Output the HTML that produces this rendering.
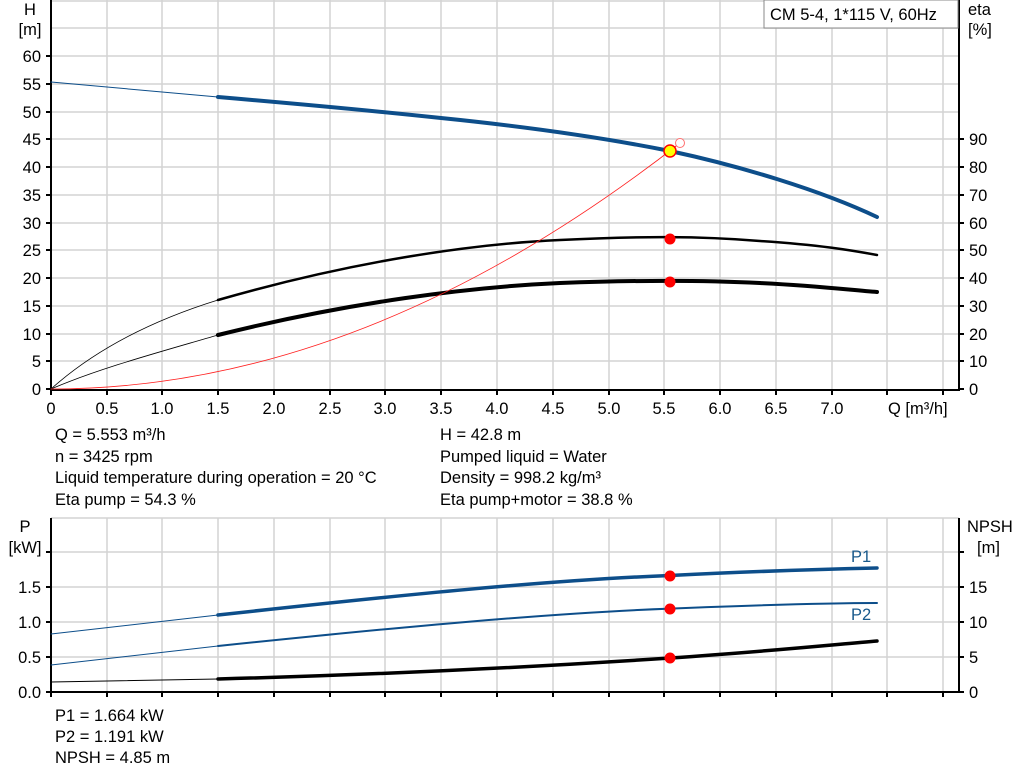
<!DOCTYPE html>
<html><head><meta charset="utf-8"><style>
body{margin:0;background:#fff}
svg{display:block;font-family:"Liberation Sans",Arial,sans-serif}
</style></head><body>
<svg width="1024" height="781" viewBox="0 0 1024 781" xmlns="http://www.w3.org/2000/svg">
<g stroke="#d4d4d4" stroke-width="1.5" fill="none">
<path d="M107,0V389M162,0V389M218,0V389M274,0V389M330,0V389M385,0V389M441,0V389M497,0V389M553,0V389M609,0V389M664,0V389M720,0V389M776,0V389M832,0V389M887,0V389M943,0V389"/>
<path d="M51,28H959M51,56H959M51,84H959M51,112H959M51,139H959M51,167H959M51,195H959M51,223H959M51,250H959M51,278H959M51,306H959M51,334H959M51,361H959"/>
<path d="M51,1H959"/>
<path d="M107,518V692M162,518V692M218,518V692M274,518V692M330,518V692M385,518V692M441,518V692M497,518V692M553,518V692M609,518V692M664,518V692M720,518V692M776,518V692M832,518V692M887,518V692M943,518V692"/>
<path d="M51,518H959M51,552H959M51,587H959M51,622H959M51,657H959"/>
</g>
<g stroke="#000" stroke-width="2" fill="none">
<path d="M51,0V390H959V0"/>
<path d="M51,518V692H959V518"/>
<path d="M51,390v5M107,390v5M162,390v5M218,390v5M274,390v5M330,390v5M385,390v5M441,390v5M497,390v5M553,390v5M609,390v5M664,390v5M720,390v5M776,390v5M832,390v5M887,390v5M943,390v5"/>
<path d="M46,56h5M46,84h5M46,112h5M46,139h5M46,167h5M46,195h5M46,223h5M46,250h5M46,278h5M46,306h5M46,334h5M46,361h5M46,389h5"/>
<path d="M959,139h5M959,167h5M959,195h5M959,223h5M959,250h5M959,278h5M959,306h5M959,334h5M959,361h5M959,389h5"/>
<path d="M46,552h5M46,587h5M46,622h5M46,657h5M46,692h5M959,552h5M959,587h5M959,622h5M959,657h5M959,692h5"/>
<path d="M51,692v5M107,692v5M162,692v5M218,692v5M274,692v5M330,692v5M385,692v5M441,692v5M497,692v5M553,692v5M609,692v5M664,692v5M720,692v5M776,692v5M832,692v5M887,692v5M943,692v5"/>
</g>
<rect x="764" y="0" width="194" height="28" fill="#fff" stroke="#888" stroke-width="1"/>
<text x="770" y="20" font-size="16.5">CM 5-4, 1*115 V, 60Hz</text>
<g font-size="16.5" fill="#000">
<text x="30" y="15" text-anchor="middle">H</text>
<text x="30" y="35" text-anchor="middle">[m]</text>
<g text-anchor="end">
<text x="41" y="62">60</text><text x="41" y="90">55</text><text x="41" y="118">50</text><text x="41" y="145">45</text><text x="41" y="173">40</text><text x="41" y="201">35</text><text x="41" y="229">30</text><text x="41" y="256">25</text><text x="41" y="284">20</text><text x="41" y="312">15</text><text x="41" y="340">10</text><text x="41" y="367">5</text><text x="41" y="395">0</text>
</g>
<text x="968" y="15">eta</text><text x="968" y="35">[%]</text>
<text x="969" y="145">90</text><text x="969" y="173">80</text><text x="969" y="201">70</text><text x="969" y="229">60</text><text x="969" y="256">50</text><text x="969" y="284">40</text><text x="969" y="312">30</text><text x="969" y="340">20</text><text x="969" y="367">10</text><text x="969" y="395">0</text>
<g text-anchor="middle">
<text x="51" y="414">0</text><text x="107" y="414">0.5</text><text x="162" y="414">1.0</text><text x="218" y="414">1.5</text><text x="274" y="414">2.0</text><text x="330" y="414">2.5</text><text x="385" y="414">3.0</text><text x="441" y="414">3.5</text><text x="497" y="414">4.0</text><text x="553" y="414">4.5</text><text x="609" y="414">5.0</text><text x="664" y="414">5.5</text><text x="720" y="414">6.0</text><text x="776" y="414">6.5</text><text x="832" y="414">7.0</text>
</g>
<text x="888" y="414">Q [m³/h]</text>
<text x="55" y="440">Q = 5.553 m³/h</text>
<text x="55" y="462">n = 3425 rpm</text>
<text x="55" y="483">Liquid temperature during operation = 20 °C</text>
<text x="55" y="505">Eta pump = 54.3 %</text>
<text x="440" y="440">H = 42.8 m</text>
<text x="440" y="462">Pumped liquid = Water</text>
<text x="440" y="483">Density = 998.2 kg/m³</text>
<text x="440" y="505">Eta pump+motor = 38.8 %</text>
<text x="25" y="532" text-anchor="middle">P</text>
<text x="25" y="553" text-anchor="middle">[kW]</text>
<g text-anchor="end">
<text x="41" y="593">1.5</text><text x="41" y="628">1.0</text><text x="41" y="663">0.5</text><text x="41" y="698">0.0</text>
</g>
<text x="967" y="532">NPSH</text><text x="977" y="553">[m]</text>
<text x="969" y="593">15</text><text x="969" y="628">10</text><text x="969" y="663">5</text><text x="969" y="698">0</text>
<text x="55" y="721">P1 = 1.664 kW</text>
<text x="55" y="742">P2 = 1.191 kW</text>
<text x="55" y="763">NPSH = 4.85 m</text>
</g>
<text x="851" y="562" font-size="16.5" fill="#1a5a8c">P1</text>
<text x="851" y="620" font-size="16.5" fill="#1a5a8c">P2</text>
<g fill="none" stroke-linecap="round">
<path d="M51,82 L218,97" stroke="#0d4e8a" stroke-width="1"/>
<path d="M218,97 C300,104 385,112 441,118 C520,126 600,137 670,151 C740,166 820,190 877,217" stroke="#0d4e8a" stroke-width="4"/>
<path d="M51,389 C100,345 160,318 218,300" stroke="#000" stroke-width="0.8"/>
<path d="M218,300 C350,262 470,244 560,240 C640,236 700,236 760,241 C820,245 850,250 877,255" stroke="#000" stroke-width="2.5"/>
<path d="M51,389 C100,368 160,352 218,335" stroke="#000" stroke-width="0.8"/>
<path d="M218,335 C350,302 470,287 560,283 C640,280 700,280 760,283 C820,286 850,290 877,292" stroke="#000" stroke-width="4"/>
<path d="M51,389 Q365,389 680,143" stroke="#ff2020" stroke-width="0.8"/>
<path d="M51,634 L218,615" stroke="#0d4e8a" stroke-width="1"/>
<path d="M218,615 C400,595 550,580 670,575.5 C760,571 830,569 877,568" stroke="#0d4e8a" stroke-width="3.5"/>
<path d="M51,665 L218,646" stroke="#0d4e8a" stroke-width="1"/>
<path d="M218,646 C400,627 550,613 670,608.6 C760,605 830,603 877,603" stroke="#0d4e8a" stroke-width="2"/>
<path d="M51,682 L218,679" stroke="#000" stroke-width="1"/>
<path d="M218,679 C400,674 550,666 670,658 C760,652 830,645 877,641" stroke="#000" stroke-width="3.5"/>
</g>
<circle cx="680" cy="143" r="4.5" fill="#fff" stroke="#ff7070" stroke-width="1"/>
<circle cx="670" cy="151" r="6" fill="#ffff00" stroke="#ff0000" stroke-width="1.5"/>
<g fill="#ff0000">
<circle cx="670" cy="239" r="5.5"/><circle cx="670" cy="282" r="5.5"/>
<circle cx="670" cy="576" r="5.5"/><circle cx="670" cy="609" r="5.5"/><circle cx="670" cy="658" r="5.5"/>
</g>
</svg>
</body></html>
